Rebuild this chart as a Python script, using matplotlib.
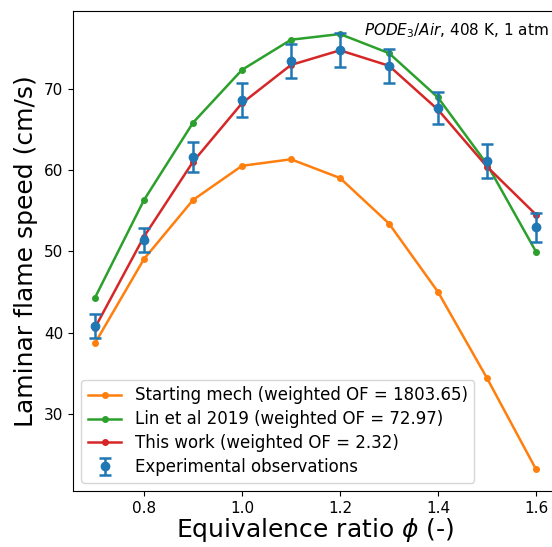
import matplotlib
matplotlib.use("Agg")
import matplotlib.pyplot as plt
import numpy as np

phi = [0.7, 0.8, 0.9, 1.0, 1.1, 1.2, 1.3, 1.4, 1.5, 1.6]

starting_mech = [38.7, 49.05, 56.3, 60.5, 61.3, 59.0, 53.4, 45.0, 34.4, 23.2]
lin_2019 = [44.3, 56.3, 65.8, 72.3, 76.0, 76.7, 74.35, 68.9, 60.7, 49.95]
this_work = [40.6, 51.8, 61.0, 68.2, 72.9, 74.7, 72.8, 67.4, 60.4, 54.5]

exp_sl = [40.8, 51.4, 61.6, 68.6, 73.4, 74.75, 72.8, 67.6, 61.1, 52.95]
exp_err = [1.43, 1.48, 1.85, 2.05, 2.1, 2.1, 2.1, 1.95, 2.07, 1.8]

labels = ['Starting mech (weighted OF = 1803.65)',
          'Lin et al 2019 (weighted OF = 72.97)',
          'This work (weighted OF = 2.32)',
          'Experimental observations']

fig = plt.figure(figsize=(5.52, 5.47), dpi=100)
ax = fig.add_axes([73 / 552, 1 - 491 / 547, 485 / 552, 480 / 547])

ax.plot(phi, starting_mech, '.-', color='tab:orange', lw=1.8, ms=8, label=labels[0])
ax.plot(phi, lin_2019, '.-', color='tab:green', lw=1.8, ms=8, label=labels[1])
ax.plot(phi, this_work, '.-', color='tab:red', lw=1.8, ms=8, label=labels[2])
ax.errorbar(phi, exp_sl, yerr=exp_err, fmt='o', color='tab:blue', ms=6,
            capsize=4, elinewidth=1.8, capthick=1.8, label=labels[3])

ax.set_xlabel(r'Equivalence ratio $\phi$ (-)', fontsize=18, labelpad=0)
ax.set_ylabel('Laminar flame speed (cm/s)', fontsize=18)
ax.tick_params(labelsize=11)
ax.text(0.981, 0.96, r'$PODE_3/Air$, 408 K, 1 atm', transform=ax.transAxes,
        ha='right', va='center', fontsize=11)
ax.legend(loc='lower left', fontsize=12, labelspacing=0.35)

fig.savefig('out.png', dpi=100)
